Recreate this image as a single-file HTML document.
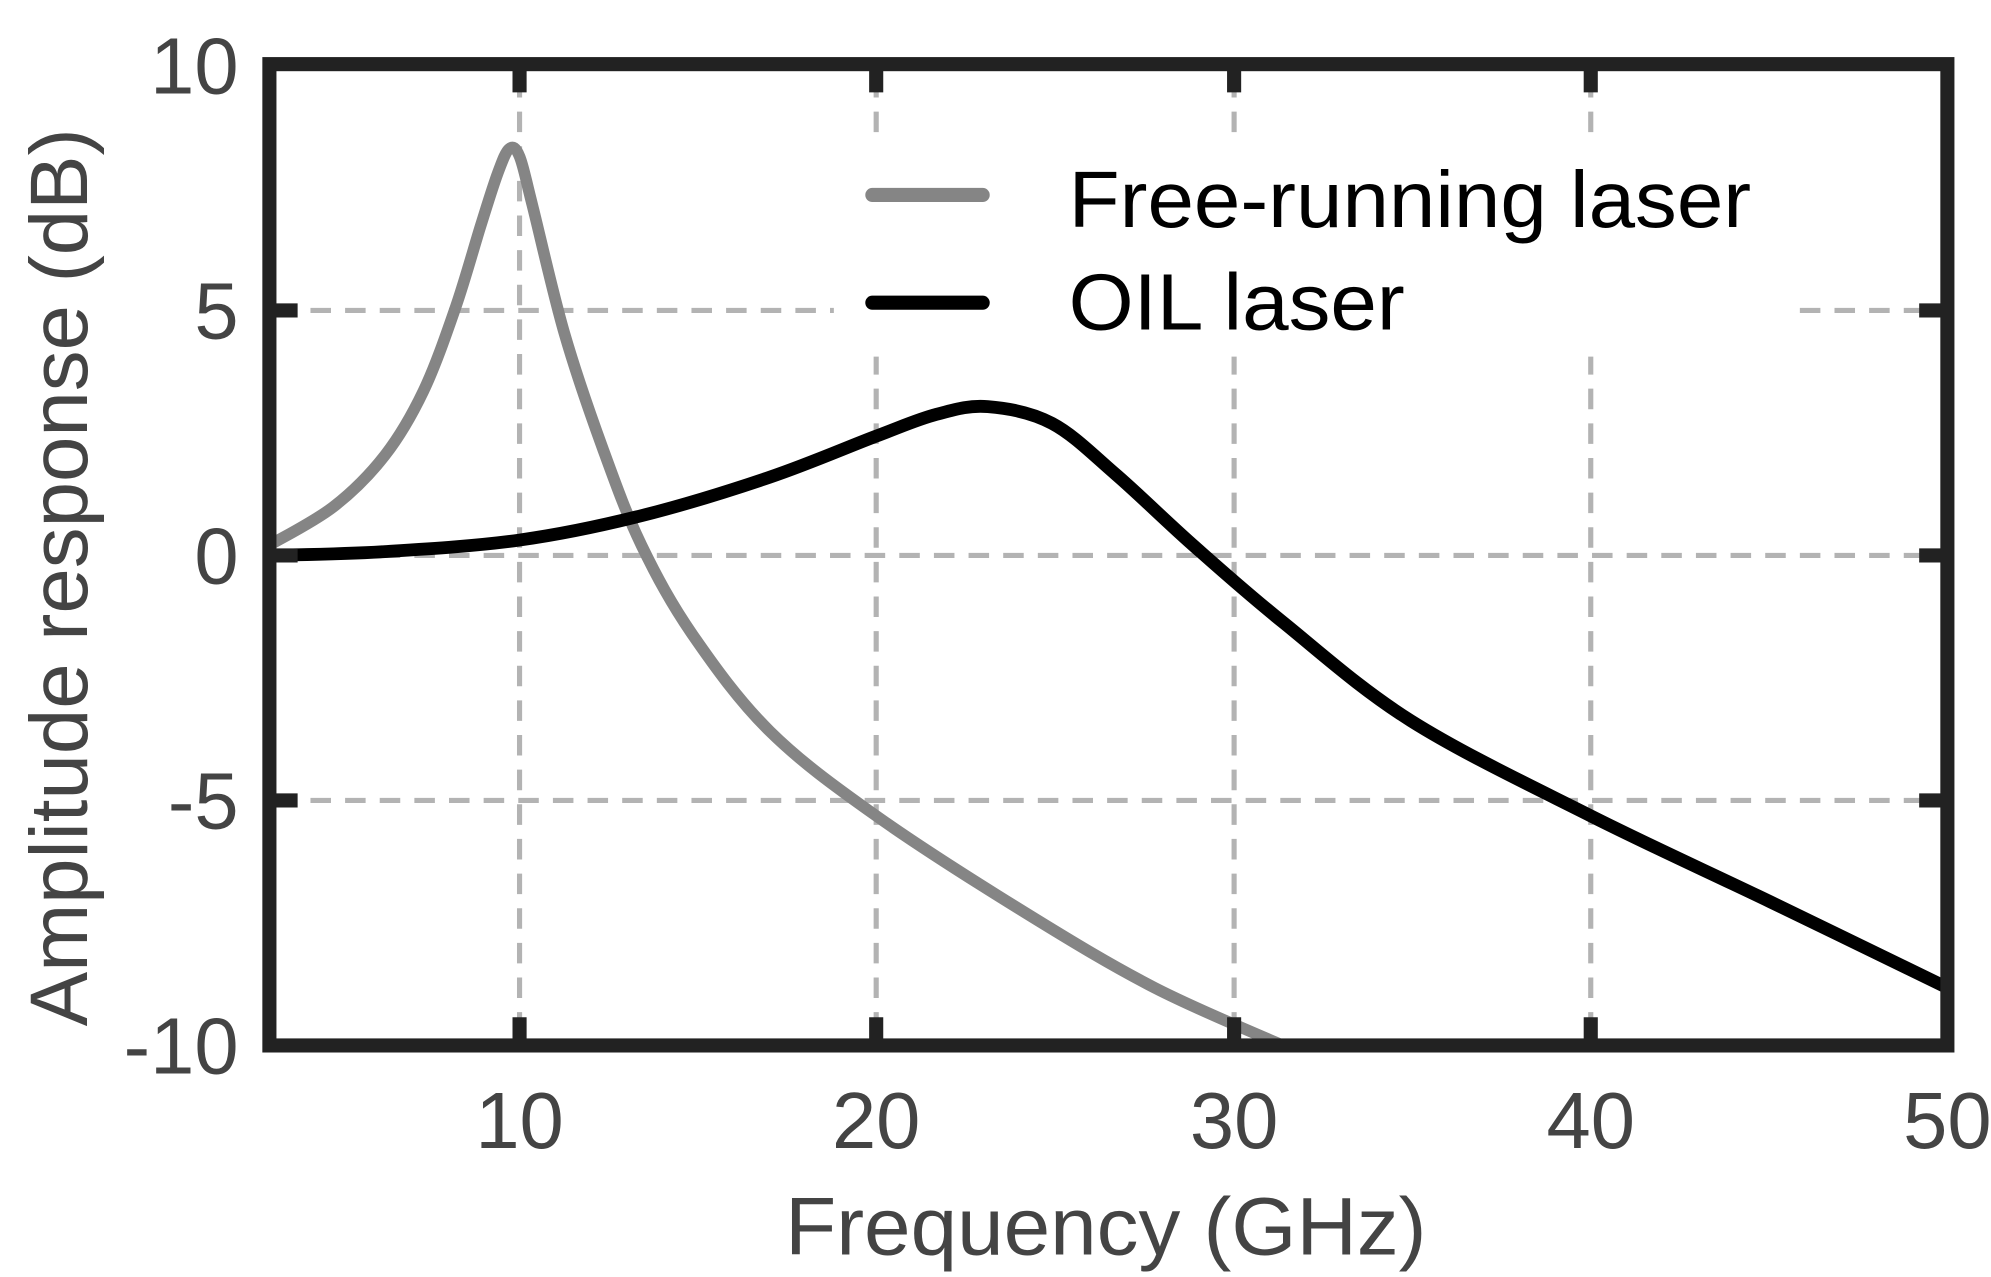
<!DOCTYPE html>
<html><head><style>html,body{margin:0;padding:0;background:#fff;overflow:hidden}svg{display:block}</style></head>
<body>
<svg id="s" width="1991" height="1277" viewBox="0 0 1552 995.5" preserveAspectRatio="none" xmlns="http://www.w3.org/2000/svg" font-family="Liberation Sans, sans-serif">
<rect width="1552" height="996" fill="#fff"/>
<g stroke="#b3b3b3" stroke-width="4" stroke-dasharray="16,11" fill="none">
<line x1="405" y1="60" x2="405" y2="810"/>
<line x1="683" y1="60" x2="683" y2="810"/>
<line x1="962" y1="60" x2="962" y2="810"/>
<line x1="1240" y1="60" x2="1240" y2="810"/>
<line x1="215" y1="242" x2="1513" y2="242"/>
<line x1="215" y1="433" x2="1513" y2="433"/>
<line x1="215" y1="624" x2="1513" y2="624"/>
</g>
<rect x="650" y="105" width="745" height="173" fill="#fff"/>
<path id="g" d="" fill="none" stroke="#858585" stroke-width="9" stroke-linecap="round"/>
<path id="b" d="" fill="none" stroke="#000" stroke-width="10"/>
<line x1="680" y1="152" x2="766" y2="152" stroke="#858585" stroke-width="11" stroke-linecap="round"/>
<line x1="680" y1="236" x2="766" y2="236" stroke="#000" stroke-width="11" stroke-linecap="round"/>
<text x="833" y="177" font-size="62" fill="#000" textLength="532" lengthAdjust="spacingAndGlyphs">Free-running laser</text>
<text x="833" y="257" font-size="62" fill="#000" textLength="262" lengthAdjust="spacingAndGlyphs">OIL laser</text>
<g stroke="#222" stroke-width="11">
<line x1="405" y1="50" x2="405" y2="72"/><line x1="683" y1="50" x2="683" y2="72"/><line x1="962" y1="50" x2="962" y2="72"/><line x1="1240" y1="50" x2="1240" y2="72"/>
<line x1="405" y1="815" x2="405" y2="793"/><line x1="683" y1="815" x2="683" y2="793"/><line x1="962" y1="815" x2="962" y2="793"/><line x1="1240" y1="815" x2="1240" y2="793"/>
<line x1="210" y1="242" x2="232" y2="242"/><line x1="210" y1="433" x2="232" y2="433"/><line x1="210" y1="624" x2="232" y2="624"/>
<line x1="1518" y1="242" x2="1496" y2="242"/><line x1="1518" y1="433" x2="1496" y2="433"/><line x1="1518" y1="624" x2="1496" y2="624"/>
</g>
<rect x="210" y="50" width="1308" height="765" fill="none" stroke="#222" stroke-width="11"/>
<g font-size="62" fill="#444" text-anchor="end">
<text x="186" y="73">10</text><text x="186" y="264">5</text><text x="186" y="455">0</text><text x="186" y="646">-5</text><text x="186" y="837">-10</text>
</g>
<g font-size="62" fill="#444" text-anchor="middle">
<text x="405" y="895">10</text><text x="683" y="895">20</text><text x="962" y="895">30</text><text x="1240" y="895">40</text><text x="1518" y="895">50</text>
</g>
<text x="612" y="978" font-size="64" fill="#444" textLength="500" lengthAdjust="spacingAndGlyphs">Frequency (GHz)</text>
<text transform="translate(68,800) rotate(-90)" font-size="64" fill="#444" textLength="700" lengthAdjust="spacingAndGlyphs">Amplitude response (dB)</text>
</svg>
<script>
function cr(p){let d="M"+p[0][0]+","+p[0][1];for(let i=0;i<p.length-1;i++){const a=p[i-1]||p[i],b=p[i],c=p[i+1],e=p[i+2]||c;
d+=" C"+(b[0]+(c[0]-a[0])/6)+","+(b[1]+(c[1]-a[1])/6)+" "+(c[0]-(e[0]-b[0])/6)+","+(c[1]-(e[1]-b[1])/6)+" "+c[0]+","+c[1];}return d;}
document.getElementById("g").setAttribute("d",cr([[210,425],[260,395],[300,355],[330,305],[355,240],[375,175],[388,135],[397,116],[405,122],[415,160],[440,260],[470,350],[500,425],[540,495],[600,570],[683,636],[800,712],[900,770],[1000,815]]));
document.getElementById("b").setAttribute("d",cr([[212,433],[300,430],[405,421],[500,402],[600,372],[683,340],[730,323],[770,317],[820,330],[870,370],[930,425],[1000,485],[1100,562],[1240,636],[1380,703],[1518,770]]));
</script>
</body></html>
